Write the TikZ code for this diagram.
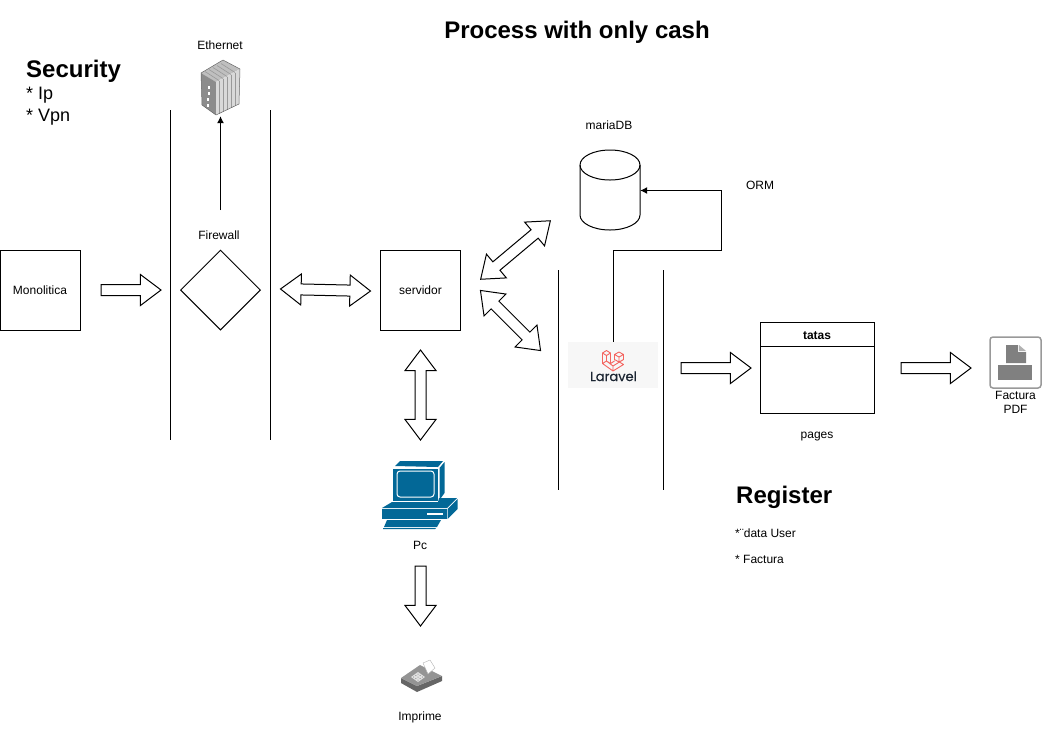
\documentclass[tikz,border=0pt]{standalone}
\usepackage{fontspec}
\setmainfont{Liberation Sans}
\newfontfamily\logofont[FakeBold=0.5]{Poppins}
\usetikzlibrary{positioning,arrows.meta,shapes.geometric,shapes.arrows}
\definecolor{pcblue}{HTML}{036897}
\definecolor{laravelred}{HTML}{F4645F}
\definecolor{laravelink}{HTML}{1B2532}
\definecolor{iconGray}{HTML}{808080}
\tikzset{
    box/.style={draw=black, line width=1pt, minimum size=80pt, inner sep=0pt, font=\fontsize{12}{14}\selectfont},
    txt/.style={inner sep=0pt, align=center, font=\fontsize{12}{14}\selectfont},
    heading/.style={inner sep=0pt, anchor=west, font=\fontsize{24}{28}\selectfont\bfseries},
    wall/.style={draw=black, line width=1pt},
    oneway/.style={single arrow, draw=black, line width=1pt, inner xsep=0pt, inner ysep=5pt, minimum width=30pt,
        single arrow head extend=10pt, single arrow tip angle=74, anchor=tail},
    twoway/.style={double arrow, draw=black, line width=1pt, inner xsep=0pt, inner ysep=5pt, minimum width=30pt,
        double arrow head extend=10pt, double arrow tip angle=74},
    thin arrow/.style={draw=black, line width=1pt, -{Latex[length=7pt,width=7pt]}}
}
\begin{document}
\begin{tikzpicture}
            [x=1pt, y=-1pt]
            \useasboundingbox (0,0) rectangle (1046,732);

            % headings
            \node [heading, anchor=center] (title) at (577,32) {Process with only cash};
            \node [heading] (security) at (26,71) {Security};
            \node [inner sep=0pt, anchor=west, font=\fontsize{18}{20}\selectfont] (ip) at (26,95) {* Ip};
            \node [inner sep=0pt, anchor=west, font=\fontsize{18}{20}\selectfont] (vpn) at (26,117) {* Vpn};
            \node [heading] (register) at (736,497) {Register};
            \node [txt, anchor=west] (datauser) at (735,533) {*¨data User};
            \node [txt, anchor=west] (factura) at (735,559) {* Factura};

            % walls
            \draw [wall] (170,110) -- (170,440);
            \draw [wall] (270,110) -- (270,440);
            \draw [wall] (558,270) -- (558,490);
            \draw [wall] (663,270) -- (663,490);

            % main boxes
            \node [box] (monolitica) at (40,290) {Monolitica};
            \node [box, diamond] (firewall) at (220.5,290) {};
            \node [txt] (firewalltxt) at (219,235) {Firewall};
            \node [box] (servidor) at (420.5,290) {servidor};
            \node [minimum width=60pt, minimum height=80pt, inner sep=0pt] (mariadb) at (610,190) {};
            \draw [wall] (580,165) arc [start angle=180, end angle=0, x radius=30pt, y radius=15pt]
                -- (640,215) arc [start angle=0, end angle=-180, x radius=30pt, y radius=15pt] -- cycle;
            \draw [wall] (580,165) arc [start angle=180, end angle=360, x radius=30pt, y radius=15pt];
            \node [txt] (mariadbtxt) at (609,125) {mariaDB};
            \node [txt] (orm) at (760,185) {ORM};

            % table
            \node [draw=black, line width=1pt, minimum width=114pt, minimum height=91pt, inner sep=0pt] (pages) at (817,367.5) {};
            \node [draw=black, line width=1pt, minimum width=114pt, minimum height=24pt, inner sep=0pt, text height=11pt,
                anchor=north, font=\fontsize{12}{14}\selectfont\bfseries] (tatas) at (pages.north) {tatas};
            \node [txt] (pagestxt) at (817,437) {pages};

            % laravel
            \node [fill=black!3, minimum width=90pt, minimum height=46pt, inner sep=0pt] (laravel) at (613,365) {};
            \draw [laravelred, line width=0.9pt, line join=round]
                (602.5,353) -- (606.5,350.5) -- (610.5,353) -- (610.5,363.5) -- (606.5,361) -- (602.5,363.5) -- cycle
                (602.5,353) -- (606.5,355.5) -- (610.5,353)
                (606.5,355.5) -- (606.5,361)
                (602.5,363.5) -- (613,371) -- (623.5,364.5) -- (618.5,361.5)
                (613,371) -- (613,366) -- (606.5,361)
                (613,366) -- (623.5,359.5) -- (623.5,354.5) -- (619,352) -- (614.5,354.5) -- (614.5,359.5) -- (619,362) -- (623.5,359.5)
                (614.5,354.5) -- (619,357) -- (623.5,354.5) (619,357) -- (619,362)
                (610.5,363.5) -- (614.5,361);
            \node [inner sep=0pt, anchor=base, text=laravelink, font=\fontsize{13}{15}\selectfont\logofont] (laraveltxt) at (613.5,381) {Laravel};

            % ethernet icon
            \node [minimum width=40pt, minimum height=56pt, inner sep=0pt] (ethernet) at (220.5,88) {};
            \fill [black!25] (201,73) -- (223,60) -- (240,69) -- (216,82) -- cycle;
            \fill [black!45] (201,73) -- (216,82) -- (216,115) -- (202,105) -- cycle;
            \fill [black!15] (216,82) -- (240,69) -- (239,104) -- (216,115) -- cycle;
            \foreach \i in {0,1,2,3,4} {
                \draw [black!40, line width=0.8pt] ({219+\i*4},{80.5-\i*2}) -- ({219+\i*4},{113.5-\i*2});
                \draw [black!40, line width=0.6pt] ({219+\i*4},{80.5-\i*2}) -- ({205+\i*4},{71.5-\i*2});
            }
            \foreach \i in {0,1,2,3} {
                \fill [white] ({208-\i*0.3},{86+\i*6}) rectangle ++(2,3);
            }
            \draw [black!60, line width=0.5pt, line join=round] (201,73) -- (223,60) -- (240,69) -- (239,104) -- (216,115) -- (202,105) -- cycle;
            \node [txt] (ethernettxt) at (220,45) {Ethernet};

            % pc icon
            \node [minimum width=77pt, minimum height=68pt, inner sep=0pt] (pc) at (419.5,495) {};
            \fill [pcblue] (395,466) -- (400,461) -- (443,461) -- (438,467) -- cycle;
            \fill [pcblue] (439.5,468) -- (444.5,462) -- (444.5,493) -- (439.5,500) -- cycle;
            \fill [pcblue] (393,469) rectangle (438,501);
            \draw [white, line width=1pt, rounded corners=3pt] (397,471) rectangle (434,497);
            \fill [pcblue] (392,502) -- (438,502) -- (439,498) -- (457,498) -- (447,508) -- (382,508) -- cycle;
            \fill [pcblue] (382,509) rectangle (446.5,519);
            \fill [pcblue] (447.5,509) -- (457.5,499) -- (457.5,509) -- (447.5,519) -- cycle;
            \fill [white] (427,513) rectangle (443,515);
            \fill [pcblue] (387,520) -- (441,520) -- (437,527) -- (384,527) -- cycle;
            \fill [pcblue] (383,528) -- (436,528) -- (435,529) -- (383,529) -- cycle;
            \node [txt] (pctxt) at (420,545) {Pc};

            % printer icon
            \node [minimum width=42pt, minimum height=33pt, inner sep=0pt] (imprime) at (421.5,676) {};
            \fill [black!60] (401,678) -- (417,686) -- (442,676) -- (442,681) -- (417,692) -- (401,683) -- cycle;
            \fill [black!42] (401,678) -- (420,665) -- (442,676) -- (417,686) -- cycle;
            \fill [white] (423,663) -- (430,660) -- (435,668) -- (428,674) -- cycle;
            \draw [black!30, line width=0.4pt] (423,663) -- (430,660) -- (435,668) -- (428,674) -- cycle;
            \fill [black!12] (411,677) -- (418,672) -- (425,677) -- (418,682) -- cycle;
            \foreach \i in {0,1,2} {
                \foreach \j in {0,1,2} {
                    \fill [black!55] ({418+(\i-\j)*2.2},{677+(\i+\j-2)*1.5}) circle (0.5pt);
                }
            }
            \node [txt] (imprimetxt) at (420,717) {Imprime};

            % pdf icon
            \node [draw=black!40, line width=1.5pt, rounded corners=3pt, minimum size=51pt, inner sep=0pt] (pdf) at (1015.5,362.5) {};
            \fill [iconGray] (1006,345) -- (1018,345) -- (1018,352) -- (1026,352) -- (1026,363) -- (1006,363) -- cycle;
            \fill [black!30] (1019,345) -- (1026,351) -- (1019,351) -- cycle;
            \fill [iconGray] (998,365) rectangle (1032,380);
            \node [txt, below=2pt of pdf] (pdftxt) {Factura\\PDF};

            % block arrows
            \node [oneway, minimum height=60pt] (toFirewall) at (100.5,290) {};
            \node [twoway, minimum height=90pt, rotate=-1.3] (firewallServer) at (325.5,290) {};
            \node [twoway, minimum height=91pt, rotate=40] (serverDb) at (515.5,250) {};
            \node [twoway, minimum height=85pt, rotate=-45] (serverLaravel) at (510.5,320.5) {};
            \node [twoway, minimum height=90pt, rotate=90] (serverPc) at (420.5,395) {};
            \node [oneway, minimum height=60pt, rotate=-90] (pcPrinter) at (420.5,565.5) {};
            \node [oneway, minimum height=70pt] (laravelPages) at (680.5,368) {};
            \node [oneway, minimum height=70pt] (pagesPdf) at (900.5,368) {};

            % thin connectors
            \coordinate (fwStart) at (220.5,210);
            \coordinate (ormA) at (613.5,250.5);
            \coordinate (ormB) at (721,250.5);
            \coordinate (ormC) at (721,190.5);
            \draw [thin arrow] (fwStart) -- (ethernet.south);
            \draw [thin arrow] (laravel.north -| ormA) -- (ormA) -- (ormB) -- (ormC) -- (mariadb.east |- ormC);
            \end{tikzpicture}
\end{document}
